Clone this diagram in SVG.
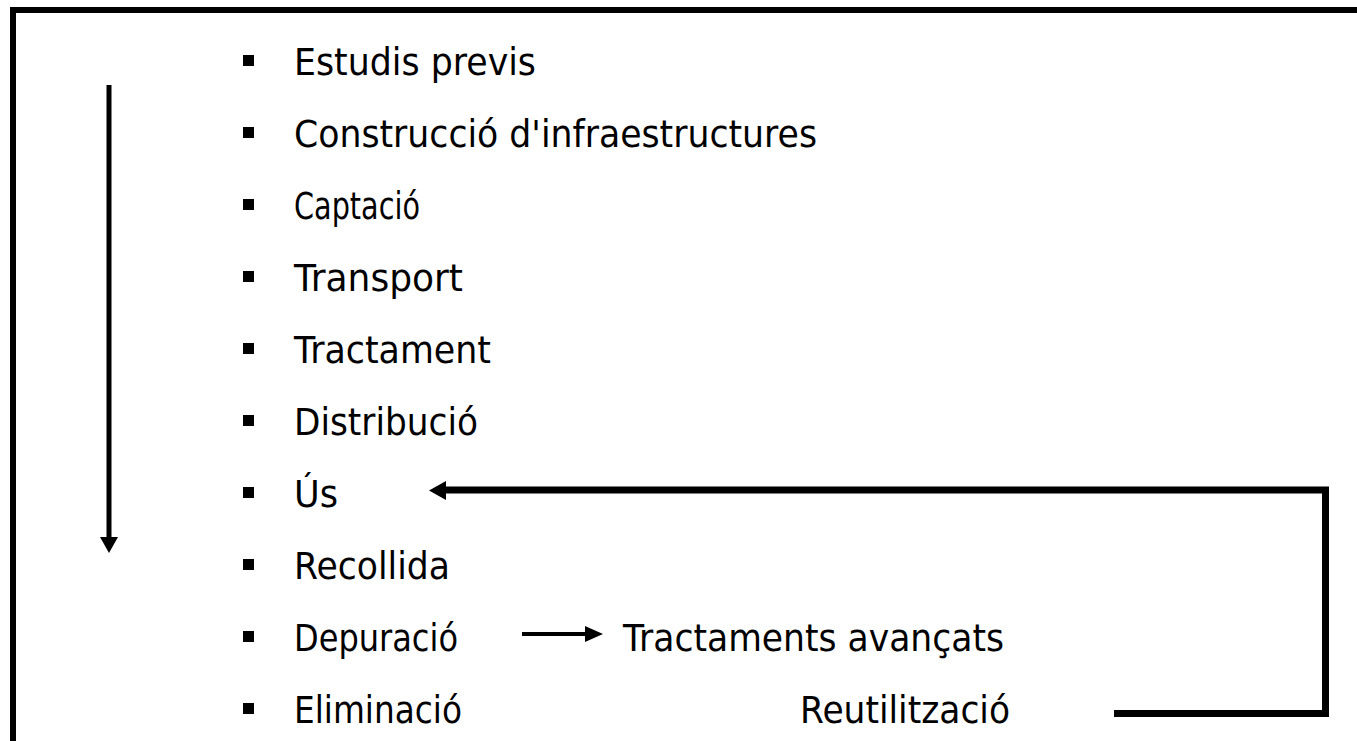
<svg xmlns="http://www.w3.org/2000/svg" width="1357" height="741" viewBox="0 0 1357 741">
  <style>
    .t { font-family: "DejaVu Sans", "Verdana", sans-serif; font-size: 37px; fill: #000; }
    .b { fill: #000; }
    .ln { fill: none; stroke: #000; stroke-linecap: butt; stroke-linejoin: miter; }
    .hd { fill: #000; }
  </style>
  <rect x="0" y="0" width="1357" height="741" fill="#fff"/>
  <path d="M13 745 V10 H1362" fill="none" stroke="#000" stroke-width="6"/>

  <g id="n-estudis"><rect class="b" x="243" y="55" width="11" height="11"/><text class="t" x="294" y="75" textLength="242" lengthAdjust="spacingAndGlyphs">Estudis previs</text></g>
  <g id="n-construccio"><rect class="b" x="243" y="127" width="11" height="11"/><text class="t" x="294" y="147" textLength="523" lengthAdjust="spacingAndGlyphs">Construcció d'infraestructures</text></g>
  <g id="n-captacio"><rect class="b" x="243" y="199" width="11" height="11"/><text class="t" x="294" y="219" textLength="126" lengthAdjust="spacingAndGlyphs">Captació</text></g>
  <g id="n-transport"><rect class="b" x="243" y="271" width="11" height="11"/><text class="t" x="294" y="291" textLength="169" lengthAdjust="spacingAndGlyphs">Transport</text></g>
  <g id="n-tractament"><rect class="b" x="243" y="343" width="11" height="11"/><text class="t" x="294" y="363" textLength="197" lengthAdjust="spacingAndGlyphs">Tractament</text></g>
  <g id="n-distribucio"><rect class="b" x="243" y="415" width="11" height="11"/><text class="t" x="294" y="435" textLength="184" lengthAdjust="spacingAndGlyphs">Distribució</text></g>
  <g id="n-us"><rect class="b" x="243" y="487" width="11" height="11"/><text class="t" x="294" y="507" textLength="44" lengthAdjust="spacingAndGlyphs">Ús</text></g>
  <g id="n-recollida"><rect class="b" x="243" y="559" width="11" height="11"/><text class="t" x="294" y="579" textLength="156" lengthAdjust="spacingAndGlyphs">Recollida</text></g>
  <g id="n-depuracio"><rect class="b" x="243" y="631" width="11" height="11"/><text class="t" x="294" y="651" textLength="164" lengthAdjust="spacingAndGlyphs">Depuració</text></g>
  <g id="n-eliminacio"><rect class="b" x="243" y="703" width="11" height="11"/><text class="t" x="294" y="723" textLength="168" lengthAdjust="spacingAndGlyphs">Eliminació</text></g>
  <g id="n-tractaments-avancats"><text class="t" x="623" y="651" textLength="381" lengthAdjust="spacingAndGlyphs">Tractaments avançats</text></g>
  <g id="n-reutilitzacio"><text class="t" x="800" y="723" textLength="210" lengthAdjust="spacingAndGlyphs">Reutilització</text></g>

  <g id="connectors">
    <g id="c-sequence">
      <line class="ln" x1="109" y1="85" x2="109" y2="539" stroke-width="5"/>
      <polygon class="hd" points="100,537 118,537 109,553"/>
    </g>
    <g id="c-depuracio-tractaments">
      <line class="ln" x1="522" y1="634" x2="588" y2="634" stroke-width="4"/>
      <polygon class="hd" points="585,626 603,634 585,642"/>
    </g>
    <g id="c-reutilitzacio-us">
      <path class="ln" d="M1114 713.5 H1325.5 V490 H444" stroke-width="7"/>
      <polygon class="hd" points="446,481 429,490.5 446,500"/>
    </g>
  </g>
</svg>
